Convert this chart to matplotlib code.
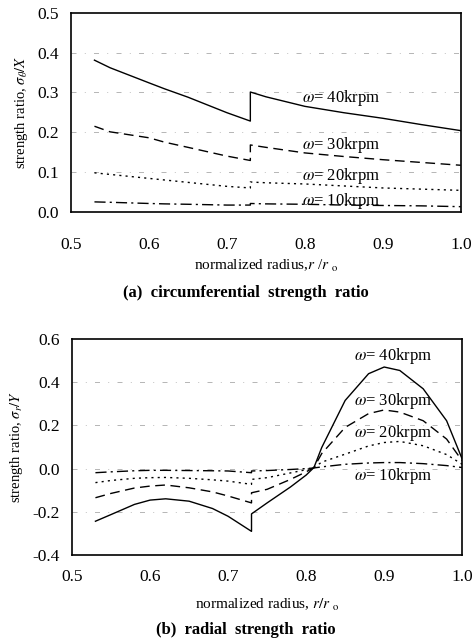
import matplotlib
matplotlib.use("Agg")
import matplotlib.pyplot as plt

plt.rcParams["font.family"] = ["Liberation Serif", "DejaVu Serif"]
plt.rcParams["mathtext.fontset"] = "stix"

speeds = ["40", "30", "20", "10"]
styles = ["-", (0, (7, 4)), (0, (1.5, 3)), (0, (8, 3, 1.5, 3))]

# (a) circumferential strength ratio, inner ring 0.53-0.73, outer 0.73-1.0
r_in = [0.53, 0.55, 0.60, 0.62, 0.65, 0.70, 0.73]
r_out = [0.73, 0.75, 0.80, 0.85, 0.90, 0.95, 1.00]
th_in = {
    "40": [0.381, 0.362, 0.324, 0.309, 0.288, 0.249, 0.228],
    "30": [0.215, 0.201, 0.186, 0.175, 0.162, 0.140, 0.129],
    "20": [0.098, 0.094, 0.084, 0.080, 0.074, 0.064, 0.060],
    "10": [0.025, 0.024, 0.021, 0.020, 0.019, 0.017, 0.017],
}
th_out = {
    "40": [0.301, 0.289, 0.265, 0.249, 0.235, 0.219, 0.204],
    "30": [0.168, 0.162, 0.148, 0.139, 0.131, 0.124, 0.117],
    "20": [0.075, 0.073, 0.070, 0.065, 0.060, 0.057, 0.054],
    "10": [0.021, 0.020, 0.019, 0.017, 0.016, 0.015, 0.013],
}
th_lbl_y = [0.286, 0.169, 0.090, 0.027]

# (b) radial strength ratio
rr_in = [0.53, 0.55, 0.58, 0.60, 0.62, 0.65, 0.68, 0.70, 0.73]
rr_out = [0.73, 0.75, 0.78, 0.80, 0.81, 0.82, 0.85, 0.88, 0.90, 0.92, 0.95, 0.98, 1.00]
rad_in = {
    "40": [-0.244, -0.213, -0.166, -0.146, -0.140, -0.151, -0.185, -0.221, -0.291],
    "30": [-0.135, -0.115, -0.090, -0.081, -0.076, -0.089, -0.108, -0.127, -0.159],
    "20": [-0.065, -0.055, -0.045, -0.042, -0.041, -0.045, -0.052, -0.058, -0.073],
    "10": [-0.019, -0.015, -0.010, -0.008, -0.008, -0.009, -0.010, -0.011, -0.019],
}
rad_out = {
    "40": [-0.210, -0.159, -0.085, -0.030, 0.005, 0.098, 0.316, 0.440, 0.471, 0.455, 0.370, 0.222, 0.044],
    "30": [-0.112, -0.096, -0.050, -0.015, 0.005, 0.070, 0.191, 0.255, 0.272, 0.262, 0.222, 0.137, 0.036],
    "20": [-0.050, -0.042, -0.020, -0.005, 0.005, 0.030, 0.067, 0.105, 0.121, 0.126, 0.106, 0.065, 0.020],
    "10": [-0.011, -0.009, -0.004, 0.000, 0.003, 0.008, 0.020, 0.026, 0.028, 0.028, 0.023, 0.014, 0.005],
}
rad_lbl_y = [0.520, 0.315, 0.165, -0.034]

fig = plt.figure(figsize=(4.77, 6.4), dpi=100)
ax1 = fig.add_axes([0.149, 0.669, 0.817, 0.311])
ax2 = fig.add_axes([0.151, 0.133, 0.818, 0.337])


def style_axis(ax, yticks, ylabel, xpad):
    ax.set_xlim(0.5, 1.0)
    ax.set_xticks([0.5, 0.6, 0.7, 0.8, 0.9, 1.0])
    ax.set_xticklabels(["0.5", "0.6", "0.7", "0.8", "0.9", "1.0"])
    ax.set_yticks(yticks)
    ax.set_yticklabels([f"{v:.1f}" for v in yticks])
    ax.set_ylim(yticks[0], yticks[-1])
    ax.tick_params(length=0, labelsize=12.5)
    ax.tick_params(axis="x", pad=xpad)
    ax.tick_params(axis="y", pad=9)
    for v in yticks[1:-1]:
        ax.axhline(v, color="#aaaaaa", lw=0.6, ls=(0, (6, 10, 1, 10)), zorder=0)
    for s in ax.spines.values():
        s.set_linewidth(1.2)
    ax.set_ylabel(ylabel, fontsize=10.5, labelpad=5)


for i, k in enumerate(speeds):
    ax1.plot(r_in + r_out, th_in[k] + th_out[k], color="black", lw=1.0, ls=styles[i])
    ax1.text(0.796, th_lbl_y[i], r"$\omega$= " + k + "krpm", fontsize=12, va="center")
style_axis(ax1, [0.0, 0.1, 0.2, 0.3, 0.4, 0.5], r"strength ratio, $\sigma_\theta/X$", 18)
ax1.set_xlabel(r"normalized radius,$r$ /$r$ $_{\rm o}$", fontsize=11, labelpad=4)
fig.text(0.515, 0.542, "(a)  circumferential  strength  ratio", fontsize=12,
         fontweight="bold", ha="center", va="center")

for i, k in enumerate(speeds):
    ax2.plot(rr_in + rr_out, rad_in[k] + rad_out[k], color="black", lw=1.0, ls=styles[i])
    ax2.text(0.861, rad_lbl_y[i], r"$\omega$= " + k + "krpm", fontsize=12, va="center")
style_axis(ax2, [-0.4, -0.2, 0.0, 0.2, 0.4, 0.6], r"strength ratio, $\sigma_r/Y$", 10)
ax2.set_xlabel(r"normalized radius, $r/r$ $_{\rm o}$", fontsize=11, labelpad=9)
fig.text(0.515, 0.016, "(b)  radial  strength  ratio", fontsize=12,
         fontweight="bold", ha="center", va="center")

fig.savefig("out.png", dpi=100)
